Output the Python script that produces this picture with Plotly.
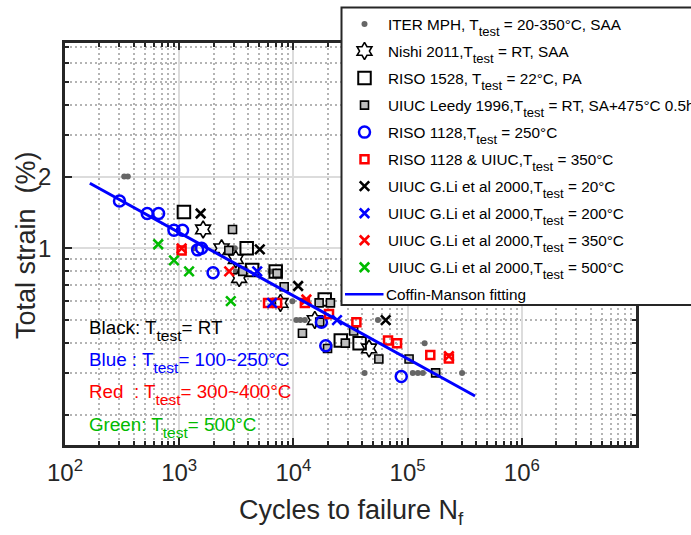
import plotly.graph_objects as go
import math

W, H = 691, 535
FONT = "Liberation Sans, Arial, sans-serif"

# ---------------- data (cycles to failure, total strain %) ----------------
iter_n = [330, 355, 1350, 3070, 3130, 6300, 9800, 10600, 11500, 12600, 55000,
          141000, 42000, 111000, 123000, 136000, 300000]
iter_s = [2.0, 2.0, 1.0, 1.0, 0.80, 0.80, 0.60, 0.50, 0.50, 0.50, 0.50,
          0.40, 0.30, 0.30, 0.30, 0.30, 0.30]

nishi_n = [1620, 2350, 3130, 3350, 7700, 15400, 46000]
nishi_s = [1.20, 1.00, 0.90, 0.75, 0.59, 0.50, 0.38]

riso1528_n = [1100, 3900, 4350, 7000, 18800, 26000, 38000]
riso1528_s = [1.42, 1.00, 0.81, 0.80, 0.61, 0.41, 0.40]

leedy_n = [2930, 2720, 3600, 7200, 8300, 16800, 21100, 12000, 17000, 33700,
           28500, 19900, 56000, 103000, 176000]
leedy_s = [1.20, 0.98, 0.80, 0.785, 0.69, 0.59, 0.59, 0.44, 0.49, 0.45,
           0.40, 0.38, 0.343, 0.343, 0.30]

riso1128_n = [300, 525, 660, 900, 1070, 1450, 1570, 1980, 17600, 19200, 88000]
riso1128_s = [1.58, 1.40, 1.40, 1.19, 1.19, 0.985, 1.00, 0.79, 0.49, 0.39, 0.29]

riso_uiuc_n = [1050, 6000, 7200, 12600, 20500, 35600, 67400, 80800, 158000, 230000]
riso_uiuc_s = [0.98, 0.59, 0.59, 0.59, 0.53, 0.49, 0.41, 0.40, 0.357, 0.345]

li20_n = [1540, 5080, 11000, 64300]
li20_s = [1.40, 0.99, 0.695, 0.50]

li200_n = [4820, 24100, 6500]
li200_s = [0.80, 0.50, 0.59]

li350_n = [1050, 2740, 13000, 230000]
li350_s = [1.00, 0.80, 0.61, 0.353]

li500_n = [655, 900, 1220, 2830]
li500_s = [1.04, 0.89, 0.80, 0.60]

fit_n = [165, 389600]
fit_s = [1.875, 0.240]

x_ticks = [1e2, 1e3, 1e4, 1e5, 1e6, 1e7]
x_ticktext = ["10<sup>2</sup>", "10<sup>3</sup>", "10<sup>4</sup>", "10<sup>5</sup>", "10<sup>6</sup>", ""]
y_ticks = [1, 2]
y_ticktext = ["1", "2"]
x_minor = [k * 10 ** d for d in range(2, 7) for k in range(2, 10)]
y_minor = [0.2, 0.3, 0.4, 0.5, 0.6, 0.7, 0.8, 0.9, 3, 4, 5, 6, 7]

x_range = [1e2, 1e7]
y_range = [0.1495, 7.27]

LEG_FS, LEG_SUB = 15.3, 13
NOTE_FS, NOTE_SUB = 18.8, 15.5


def tt(size):
    return ('<sub><span style="font-size:%gpx;baseline-shift:-0.2em">test</span></sub>' % size)


legend_names = [
    "ITER MPH, T%s = 20-350°C, SAA",
    "Nishi 2011,T%s = RT, SAA",
    "RISO 1528, T%s = 22°C, PA",
    "UIUC Leedy 1996,T%s = RT, SA+475°C 0.5h",
    "RISO 1128,T%s = 250°C",
    "RISO 1128 & UIUC,T%s = 350°C",
    "UIUC G.Li et al 2000,T%s = 20°C",
    "UIUC G.Li et al 2000,T%s = 200°C",
    "UIUC G.Li et al 2000,T%s = 350°C",
    "UIUC G.Li et al 2000,T%s = 500°C",
]
fit_name = "Coffin-Manson fitting"

# ---------------- series styles ----------------
GREEN = "#00bb00"
series = [
    dict(n=iter_n, s=iter_s,
         marker=dict(symbol="circle", size=6, color="#666666", line=dict(width=0))),
    dict(n=nishi_n, s=nishi_s,
         marker=dict(symbol="hexagram-open", size=13, color="black", line=dict(width=1.6, color="black"))),
    dict(n=riso1528_n, s=riso1528_s,
         marker=dict(symbol="square-open", size=12.5, color="black", line=dict(width=2, color="black"))),
    dict(n=leedy_n, s=leedy_s,
         marker=dict(symbol="square", size=8, color="#bdbdbd", line=dict(width=1.6, color="black"))),
    dict(n=riso1128_n, s=riso1128_s,
         marker=dict(symbol="circle-open", size=11, color="#0000ff", line=dict(width=2.5, color="#0000ff"))),
    dict(n=riso_uiuc_n, s=riso_uiuc_s,
         marker=dict(symbol="square-open", size=8, color="#ff0000", line=dict(width=2.5, color="#ff0000"))),
    dict(n=li20_n, s=li20_s,
         marker=dict(symbol="x-thin", size=9.5, color="black", line=dict(width=2.6, color="black"))),
    dict(n=li200_n, s=li200_s,
         marker=dict(symbol="x-thin", size=9.5, color="#0000ff", line=dict(width=2.6, color="#0000ff"))),
    dict(n=li350_n, s=li350_s,
         marker=dict(symbol="x-thin", size=9.5, color="#ff0000", line=dict(width=2.6, color="#ff0000"))),
    dict(n=li500_n, s=li500_s,
         marker=dict(symbol="x-thin", size=9.5, color=GREEN, line=dict(width=2.6, color=GREEN))),
]

fig = go.Figure()
for sr, nm in zip(series, legend_names):
    fig.add_trace(go.Scatter(x=sr["n"], y=sr["s"], mode="markers", name=nm % tt(LEG_SUB),
                             marker=sr["marker"], showlegend=False, xaxis="x", yaxis="y",
                             cliponaxis=True))
fig.add_trace(go.Scatter(x=fit_n, y=fit_s, mode="lines", name=fit_name,
                         line=dict(color="#0000ff", width=3), showlegend=False,
                         xaxis="x", yaxis="y"))

# ---------------- hand-built legend on a full-figure overlay subplot (pixel units) ----------------
LEG_X0, LEG_Y0, LEG_X1, LEG_Y1 = 341.5, 7.5, 720, 305
LEG_MX = 364.5
LEG_TX = 386
LEG_ROW0, LEG_DY = 24.0, 27.03
for i, (sr, nm) in enumerate(zip(series, legend_names)):
    yy = LEG_ROW0 + LEG_DY * i
    fig.add_trace(go.Scatter(x=[LEG_MX], y=[yy], mode="markers", marker=sr["marker"],
                             showlegend=False, xaxis="x2", yaxis="y2", hoverinfo="skip"))
    fig.add_annotation(x=LEG_TX, y=yy + 3, xref="x2", yref="y2", text=nm % tt(LEG_SUB),
                       showarrow=False, xanchor="left", yanchor="middle",
                       font=dict(family=FONT, size=LEG_FS, color="black"))
yl = LEG_ROW0 + LEG_DY * 10
fig.add_trace(go.Scatter(x=[345, 383.5], y=[yl, yl], mode="lines",
                         line=dict(color="#0000ff", width=2.5), showlegend=False,
                         xaxis="x2", yaxis="y2", hoverinfo="skip"))
fig.add_annotation(x=LEG_TX - 2, y=yl, xref="x2", yref="y2", text=fit_name,
                   showarrow=False, xanchor="left", yanchor="middle",
                   font=dict(family=FONT, size=LEG_FS, color="black"))
fig.add_shape(type="rect", xref="x2", yref="y2", x0=LEG_X0, y0=LEG_Y0, x1=LEG_X1, y1=LEG_Y1,
              line=dict(color="#262626", width=2), fillcolor="white", layer="below")

# ---------------- in-plot colour key ----------------
NB = "\u00a0"
notes = [
    ("Black: T%s= RT", "black", 330),
    ("Blue : T%s= 100~250°C", "#0000ff", 362),
    ("Red" + NB + NB + ": T%s= 300~400°C", "#ff0000", 394.5),
    ("Green: T%s= 500°C", GREEN, 427.5),
]
for txt, col, yy in notes:
    fig.add_annotation(x=87, y=yy, xref="x2", yref="y2", text=txt % tt(NOTE_SUB), showarrow=False,
                       xanchor="left", yanchor="middle",
                       font=dict(family=FONT, size=NOTE_FS, color=col))

# axis titles
fig.add_annotation(x=351, y=512, xref="x2", yref="y2", text="Cycles to failure N<sub>f</sub>",
                   showarrow=False, xanchor="center", yanchor="middle",
                   font=dict(family=FONT, size=27, color="#262626"))
fig.add_annotation(x=26, y=245, xref="x2", yref="y2", text="Total strain  (%)", textangle=-90,
                   showarrow=False, xanchor="center", yanchor="middle",
                   font=dict(family=FONT, size=27, color="#262626"))

PX0, PX1, PY0, PY1 = 65, 636, 43, 445
AX = "#262626"
common_minor = dict(ticks="inside", ticklen=4.5, tickwidth=2.2, tickcolor=AX,
                    showgrid=True, gridcolor="#b4b4b4", griddash="2px,3px", gridwidth=1.6)
fig.update_layout(
    width=W, height=H, margin=dict(l=0, r=0, t=0, b=0, pad=0, autoexpand=False),
    paper_bgcolor="white", plot_bgcolor="rgba(0,0,0,0)",
    font=dict(family=FONT, color="#262626"),
    xaxis=dict(type="log", range=[math.log10(x_range[0]), math.log10(x_range[1])],
               domain=[PX0 / W, PX1 / W], anchor="y", automargin=False,
               tickmode="array", tickvals=x_ticks, ticktext=x_ticktext,
               ticks="inside", ticklen=7, tickwidth=2.2, tickcolor=AX,
               showline=True, linecolor=AX, linewidth=2.6, mirror="allticks",
               showgrid=True, gridcolor="#dcdcdc", gridwidth=2,
               tickfont=dict(size=24, color="#262626"), ticklabelstandoff=4,
               minor=dict(tickmode="array", tickvals=x_minor, **common_minor),
               zeroline=False, fixedrange=True),
    yaxis=dict(type="log", range=[math.log10(y_range[0]), math.log10(y_range[1])],
               domain=[1 - PY1 / H, 1 - PY0 / H], anchor="x", automargin=False,
               tickmode="array", tickvals=y_ticks, ticktext=y_ticktext,
               ticks="inside", ticklen=7, tickwidth=2.2, tickcolor=AX,
               showline=True, linecolor=AX, linewidth=2.6, mirror="allticks",
               showgrid=True, gridcolor="#dcdcdc", gridwidth=2,
               tickfont=dict(size=24, color="#262626"), ticklabelstandoff=6,
               minor=dict(tickmode="array", tickvals=y_minor, **common_minor),
               zeroline=False, fixedrange=True),
    xaxis2=dict(range=[0, W], domain=[0, 1], anchor="y2", visible=False, fixedrange=True,
                automargin=False),
    yaxis2=dict(range=[H, 0], domain=[0, 1], anchor="x2", visible=False, fixedrange=True,
                automargin=False),
    showlegend=False,
)

fig.write_html("out.html")
